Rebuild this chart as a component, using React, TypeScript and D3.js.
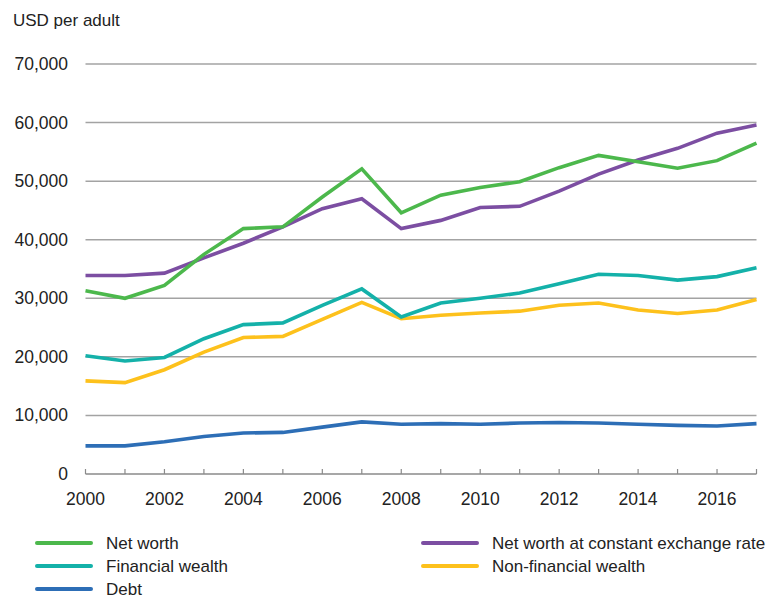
import React, { useEffect, useRef } from 'react';
import * as d3 from 'd3';

const years = [2000, 2001, 2002, 2003, 2004, 2005, 2006, 2007, 2008, 2009, 2010, 2011, 2012, 2013, 2014, 2015, 2016, 2017];
const xTickLabels = [2000, 2002, 2004, 2006, 2008, 2010, 2012, 2014, 2016];
const yTicks = [0, 10000, 20000, 30000, 40000, 50000, 60000, 70000];

const netWorth = [31300, 30000, 32200, 37500, 41900, 42200, 47300, 52100, 44600, 47600, 48900, 49900, 52300, 54400, 53300, 52200, 53500, 56500];
const netWorthConst = [33900, 33900, 34300, 36900, 39400, 42200, 45300, 47000, 41900, 43300, 45500, 45700, 48300, 51200, 53600, 55600, 58200, 59600];
const financial = [20200, 19300, 19900, 23100, 25500, 25800, 28800, 31600, 26800, 29200, 30000, 30900, 32500, 34100, 33900, 33100, 33700, 35200];
const nonFinancial = [15900, 15600, 17800, 20800, 23300, 23500, 26400, 29300, 26500, 27100, 27500, 27800, 28800, 29200, 28000, 27400, 28000, 29800];
const debt = [4800, 4800, 5500, 6400, 7000, 7100, 8000, 8900, 8500, 8600, 8500, 8700, 8800, 8700, 8500, 8300, 8200, 8600];

const seriesNames = ['Net worth', 'Net worth at constant exchange rate', 'Financial wealth', 'Non-financial wealth', 'Debt'];
const seriesColors = ['#4cb84c', '#7c4ea2', '#14b1a9', '#fdc11c', '#2d6eb6'];

const App = () => {
    const svgRef = useRef(null);

    useEffect(() => {
        const svg = d3.select(svgRef.current);
        const width = 778;
        const height = 599;
        const marginLeft = 85.5;
        const plotRight = 756.5;
        const yTop = 64;
        const yBottom = 474;
        const font = 'Arial, "Liberation Sans", sans-serif';

        svg.attr('width', width).attr('height', height).selectAll('*').remove();

        const x = d3.scaleLinear().domain([2000, 2017]).range([marginLeft, plotRight]);
        const y = d3.scaleLinear().domain([0, 70000]).range([yBottom, yTop]);

        svg.append('text')
            .attr('x', 13)
            .attr('y', 26)
            .attr('font-family', font)
            .attr('font-size', 17)
            .attr('fill', '#222')
            .text('USD per adult');

        // gridlines
        svg.selectAll('.grid')
            .data(yTicks.filter(d => d > 0))
            .enter()
            .append('line')
            .attr('x1', marginLeft)
            .attr('x2', plotRight)
            .attr('y1', d => y(d))
            .attr('y2', d => y(d))
            .attr('stroke', '#a3a3a3')
            .attr('stroke-width', 1.5);

        svg.selectAll('.ylabel')
            .data(yTicks)
            .enter()
            .append('text')
            .attr('x', 68)
            .attr('y', d => y(d) + 6)
            .attr('text-anchor', 'end')
            .attr('font-family', font)
            .attr('font-size', 17.5)
            .attr('fill', '#222')
            .text(d => d3.format(',')(d));

        // x axis
        const axis = svg.append('g');
        axis.append('line')
            .attr('x1', marginLeft)
            .attr('x2', plotRight)
            .attr('y1', yBottom)
            .attr('y2', yBottom)
            .attr('stroke', '#8a8a8a')
            .attr('stroke-width', 1.5);
        axis.selectAll('.tick')
            .data(years)
            .enter()
            .append('line')
            .attr('x1', d => x(d))
            .attr('x2', d => x(d))
            .attr('y1', yBottom - 5)
            .attr('y2', yBottom)
            .attr('stroke', '#8a8a8a')
            .attr('stroke-width', 1.2);
        axis.selectAll('.xlabel')
            .data(xTickLabels)
            .enter()
            .append('text')
            .attr('x', d => x(d))
            .attr('y', 505)
            .attr('text-anchor', 'middle')
            .attr('font-family', font)
            .attr('font-size', 17.5)
            .attr('fill', '#222')
            .text(d => d);

        const seriesData = [netWorth, netWorthConst, financial, nonFinancial, debt];
        const line = d3.line().x((d, i) => x(years[i])).y(d => y(d));
        // draw order: debt first, net worth on top
        const order = [4, 3, 2, 1, 0];
        order.forEach(k => {
            svg.append('path')
                .datum(seriesData[k])
                .attr('d', line)
                .attr('fill', 'none')
                .attr('stroke', seriesColors[k])
                .attr('stroke-width', 3.6)
                .attr('stroke-linejoin', 'miter')
                .attr('stroke-linecap', 'butt');
        });

        // legend
        const legendPos = [
            { lx: 37, ly: 543 },
            { lx: 423, ly: 543 },
            { lx: 37, ly: 566 },
            { lx: 423, ly: 566 },
            { lx: 37, ly: 589 },
        ];
        const legend = svg.selectAll('.legend')
            .data(seriesNames)
            .enter()
            .append('g')
            .attr('transform', (d, i) => `translate(${legendPos[i].lx}, ${legendPos[i].ly})`);
        legend.append('line')
            .attr('x1', 0)
            .attr('x2', 54)
            .attr('y1', 0)
            .attr('y2', 0)
            .attr('stroke', (d, i) => seriesColors[i])
            .attr('stroke-width', 4)
            .attr('stroke-linecap', 'round');
        legend.append('text')
            .attr('x', 69)
            .attr('y', 6)
            .attr('font-family', font)
            .attr('font-size', 17)
            .attr('fill', '#222')
            .text(d => d);
    }, []);

    return <svg ref={svgRef} style={{ position: 'absolute', left: 0, top: 0, display: 'block' }}></svg>;
};

export default App;
